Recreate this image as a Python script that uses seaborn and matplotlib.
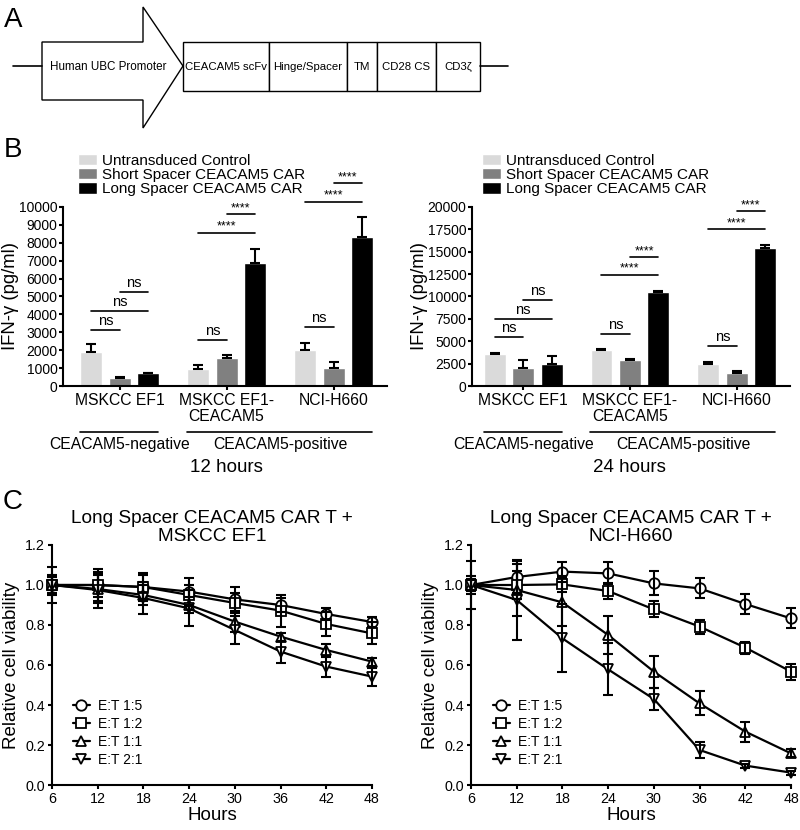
import numpy as np
import pandas as pd
import matplotlib
matplotlib.use("Agg")
import matplotlib.pyplot as plt
from matplotlib.patches import Polygon, Rectangle
import seaborn as sns

# ---- panel A: construct schematic
promoter = "Human UBC Promoter"
segments = ["CEACAM5 scFv", "Hinge/Spacer", "TM", "CD28 CS", "CD3ζ"]
segment_edges = [183, 269, 347, 377, 436, 480]

# ---- panel B: IFN-gamma release
cell_lines = ["MSKCC EF1", "MSKCC EF1-\nCEACAM5", "NCI-H660"]
car_groups = ["Untransduced Control", "Short Spacer CEACAM5 CAR", "Long Spacer CEACAM5 CAR"]
bar_colors = ["#dadada", "#808080", "#000000"]

ifn_12h = [[1880, 970, 1990],
           [450, 1580, 1020],
           [710, 6850, 8310]]
err_12h = [[470, 200, 390],
           [40, 150, 340],
           [30, 820, 1120]]
ifn_24h = [[3630, 4010, 2510],
           [2060, 2890, 1460],
           [2440, 10480, 15430]]
err_24h = [[80, 70, 190],
           [830, 180, 230],
           [900, 190, 380]]

# (cell line, group a, group b, height, label)
sig_12h = [(0, 0, 1, 3150, "ns"), (0, 0, 2, 4190, "ns"), (0, 1, 2, 5250, "ns"),
           (1, 0, 1, 2550, "ns"), (1, 0, 2, 8560, "****"), (1, 1, 2, 9590, "****"),
           (2, 0, 1, 3310, "ns"), (2, 0, 2, 10300, "****"), (2, 1, 2, 11320, "****")]
sig_24h = [(0, 0, 1, 5430, "ns"), (0, 0, 2, 7490, "ns"), (0, 1, 2, 9590, "ns"),
           (1, 0, 1, 5800, "ns"), (1, 0, 2, 12440, "****"), (1, 1, 2, 14420, "****"),
           (2, 0, 1, 4420, "ns"), (2, 0, 2, 17530, "****"), (2, 1, 2, 19550, "****")]

# ---- panel C: killing assay
hours = [6, 12, 18, 24, 30, 36, 42, 48]
ratios = ["E:T 1:5", "E:T 1:2", "E:T 1:1", "E:T 2:1"]
ratio_markers = ["o", "s", "^", "v"]

ef1_viab = [[1.0, 1.0, 0.99, 0.967, 0.928, 0.90, 0.855, 0.815],
            [1.0, 1.0, 0.99, 0.95, 0.91, 0.872, 0.805, 0.758],
            [1.0, 0.98, 0.95, 0.90, 0.817, 0.742, 0.675, 0.617],
            [1.0, 0.975, 0.935, 0.883, 0.775, 0.667, 0.592, 0.542]]
ef1_err = [[0.04, 0.06, 0.07, 0.07, 0.06, 0.035, 0.03, 0.025],
           [0.09, 0.08, 0.06, 0.05, 0.05, 0.08, 0.06, 0.055],
           [0.04, 0.07, 0.05, 0.04, 0.05, 0.02, 0.03, 0.02],
           [0.05, 0.09, 0.08, 0.09, 0.07, 0.055, 0.05, 0.045]]
h660_viab = [[1.0, 1.04, 1.067, 1.058, 1.008, 0.983, 0.905, 0.833],
             [1.0, 1.0, 1.003, 0.97, 0.878, 0.792, 0.687, 0.567],
             [1.0, 0.975, 0.913, 0.75, 0.567, 0.408, 0.267, 0.158],
             [1.0, 0.925, 0.733, 0.578, 0.43, 0.175, 0.097, 0.062]]
h660_err = [[0.045, 0.08, 0.05, 0.055, 0.06, 0.05, 0.05, 0.05],
            [0.03, 0.07, 0.04, 0.04, 0.04, 0.035, 0.03, 0.04],
            [0.025, 0.13, 0.12, 0.095, 0.08, 0.06, 0.05, 0.02],
            [0.12, 0.2, 0.17, 0.13, 0.055, 0.04, 0.01, 0.01]]

sns.set_style("ticks")
plt.rcParams["font.family"] = ["Liberation Sans", "DejaVu Sans"]
plt.rcParams["axes.linewidth"] = 1.5
plt.rcParams["xtick.major.width"] = 1.5
plt.rcParams["ytick.major.width"] = 1.5
plt.rcParams["xtick.major.size"] = 3
plt.rcParams["ytick.major.size"] = 3
plt.rcParams["xtick.color"] = "black"
plt.rcParams["ytick.color"] = "black"
plt.rcParams["axes.edgecolor"] = "black"
plt.rcParams["text.color"] = "black"
plt.rcParams["axes.labelcolor"] = "black"

W, H = 800, 830
fig = plt.figure(figsize=(8, 8.3), dpi=100)


def px_axes(x0, y0, x1, y1):
    # axes rectangle from pixel box (top-left origin)
    return fig.add_axes([x0 / W, 1 - y1 / H, (x1 - x0) / W, (y1 - y0) / H])


# ---------------- A
axA = fig.add_axes([0, 1 - 140 / H, 1, 140 / H])
axA.set_xlim(0, W)
axA.set_ylim(140, 0)
axA.axis("off")
axA.plot([13, 42], [66, 66], color="k", lw=1.2)
axA.plot([segment_edges[-1], 508], [66, 66], color="k", lw=1.2)
arrow = Polygon([(42, 42), (143, 42), (143, 7), (183, 66), (143, 128), (143, 100), (42, 100)],
                closed=True, facecolor="white", edgecolor="k", lw=1.0)
axA.add_patch(arrow)
axA.text(108, 67, promoter, ha="center", va="center", fontsize=8.4)
for lab, x0, x1 in zip(segments, segment_edges[:-1], segment_edges[1:]):
    axA.add_patch(Rectangle((x0, 42), x1 - x0, 49, facecolor="white", edgecolor="k", lw=1.0))
    axA.text((x0 + x1) / 2, 67, lab, ha="center", va="center", fontsize=8.2)


# ---------------- B
def draw_bars(ax, values, errors, sigs, ymax, ystep, title, xlim, legend_x):
    df = pd.DataFrame([(cell_lines[i], car_groups[g], values[g][i])
                       for g in range(3) for i in range(3)], columns=["cell", "car", "ifn"])
    sns.barplot(data=df, x="cell", y="ifn", hue="car", order=cell_lines, hue_order=car_groups,
                palette=bar_colors, saturation=1, errorbar=None, width=0.8, gap=0.23, ax=ax)
    bar_conts = list(ax.containers)
    centers = []
    for g, cont in enumerate(bar_conts):
        xs = [b.get_x() + b.get_width() / 2 for b in cont]
        centers.append(xs)
        ax.errorbar(xs, values[g], yerr=[np.zeros(3), errors[g]], fmt="none", ecolor="k",
                    elinewidth=1.5, capsize=3.5, capthick=1.5)
    for i, a, b, h, lab in sigs:
        x1, x2 = centers[a][i], centers[b][i]
        ax.plot([x1, x2], [h, h], color="k", lw=1.2, clip_on=False)
        ax.annotate(lab, ((x1 + x2) / 2, h), xytext=(0, 1.5 if lab == "ns" else 0),
                    textcoords="offset points", ha="center", va="bottom",
                    fontsize=10.5 if lab == "ns" else 9, annotation_clip=False)
    ax.set_ylim(0, ymax)
    ax.set_yticks(np.arange(0, ymax + 1, ystep))
    ax.set_xlim(*xlim)
    ax.set_xlabel("")
    ax.set_ylabel("IFN-γ (pg/ml)", fontsize=13.3, labelpad=0)
    ax.tick_params(axis="y", labelsize=10, pad=1)
    ax.tick_params(axis="x", labelsize=11.3, pad=2)
    for t in ax.get_xticklabels():
        t.set_linespacing(1.1)
    sns.despine(ax=ax)
    sns.move_legend(ax, "lower left", bbox_to_anchor=(legend_x, 1.06), title=None,
                    frameon=False, fontsize=11, handlelength=1.25, handleheight=0.75,
                    labelspacing=0.02, handletextpad=0.3, borderpad=0, borderaxespad=0)
    trans = ax.get_xaxis_transform()
    ax.plot([-0.37, 0.36], [-0.257, -0.257], transform=trans, color="k", lw=1.2, clip_on=False)
    ax.plot([0.63, 2.36], [-0.257, -0.257], transform=trans, color="k", lw=1.2, clip_on=False)
    ax.text(0, -0.325, "CEACAM5-negative", transform=trans, ha="center", va="center", fontsize=11.3)
    ax.text(1.5, -0.325, "CEACAM5-positive", transform=trans, ha="center", va="center", fontsize=11.3)
    ax.text(1, -0.455, title, transform=trans, ha="center", va="center", fontsize=13.5)


axB1 = px_axes(63, 207, 387, 386)
draw_bars(axB1, ifn_12h, err_12h, sig_12h, 10000, 1000, "12 hours", (-0.53, 2.5), 0.046)
axB2 = px_axes(472, 207, 790, 386)
draw_bars(axB2, ifn_24h, err_24h, sig_24h, 20000, 2500, "24 hours", (-0.48, 2.5), 0.031)


# ---------------- C
def draw_kill(ax, viab, err, title, legend_x):
    for r, lab in enumerate(ratios):
        sns.lineplot(x=hours, y=viab[r], marker=ratio_markers[r], color="k", lw=1.6,
                     markersize=7.5, markerfacecolor="white", markeredgecolor="k",
                     markeredgewidth=1.3, label=lab, clip_on=False, zorder=3, ax=ax)
        eb = ax.errorbar(hours, viab[r], yerr=err[r], fmt="none", ecolor="k",
                         elinewidth=1.5, capsize=3.5, capthick=1.5, zorder=4)
        for c in eb.lines[1]:
            c.set_clip_on(False)
        for c in eb.lines[2]:
            c.set_clip_on(False)
    ax.set_xlim(6, 48)
    ax.set_ylim(0, 1.2)
    ax.set_xticks(hours)
    ax.set_yticks(np.arange(0, 1.21, 0.2))
    ax.yaxis.set_major_formatter(matplotlib.ticker.FormatStrFormatter("%.1f"))
    ax.tick_params(labelsize=10.3, pad=2)
    ax.set_xlabel("Hours", fontsize=13.5, labelpad=1)
    ax.set_ylabel("Relative cell viability", fontsize=13.5, labelpad=4)
    ax.set_title(title, fontsize=13.7, linespacing=1.1, pad=3)
    sns.despine(ax=ax)
    ax.legend(loc="lower left", bbox_to_anchor=(legend_x, 0.075), frameon=False, fontsize=10,
              handlelength=1.2, labelspacing=0.28, handletextpad=0.6, borderpad=0, borderaxespad=0)


axC1 = px_axes(52, 545, 372, 785)
draw_kill(axC1, ef1_viab, ef1_err, "Long Spacer CEACAM5 CAR T +\nMSKCC EF1", 0.066)
axC2 = px_axes(471, 545, 791, 785)
draw_kill(axC2, h660_viab, h660_err, "Long Spacer CEACAM5 CAR T +\nNCI-H660", 0.069)

for letter, (x, y) in zip("ABC", [(13, 20), (13, 150), (13, 502)]):
    fig.text(x / W, 1 - y / H, letter, ha="center", va="center", fontsize=20)

fig.savefig("out.png", dpi=100)
